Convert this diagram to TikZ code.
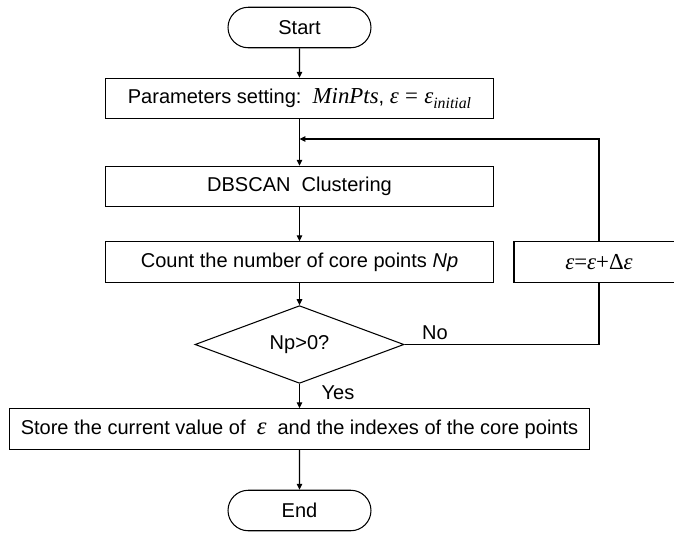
\documentclass[tikz,border=0pt]{standalone}
\usepackage{fontspec}
\setmainfont{Liberation Sans}
\newfontfamily\tms{Liberation Serif}
\usetikzlibrary{shapes.geometric, shapes.misc, arrows.meta, positioning}
\newcommand{\eps}{{\tms\itshape ε}}
\newcommand{\grande}{\fontsize{13}{13}\selectfont}

\begin{document}
\begin{tikzpicture}[x = 0.02cm, y = -0.02cm, font = \fontsize{11.4}{13}\selectfont,
    blocco/.style = {draw, line width = 0.6pt, minimum height = 0.81cm, inner sep = 0pt},
    terminale/.style = {blocco, rounded rectangle, minimum width = 2.86cm},
    rombo/.style = {draw, line width = 0.6pt, diamond, minimum width = 4.18cm, minimum height = 1.14cm, inner sep = 0pt},
    freccia/.style = {line width = 0.6pt, -{Triangle[length = 3.4pt, width = 3.2pt]}},
    linea/.style = {line width = 0.6pt}]
    % Cornice
    \useasboundingbox (0,0) rectangle (674,532);
    % Blocchi
    \node[terminale] (start) at (299.5,27.5) {Start};
    \node[blocco, minimum width = 7.76cm] (param) at (299.5,98.5)
        {Parameters setting:\ \ {\grande\tms\itshape MinPts},\ {\grande\eps\ {\tms =} \eps}\raisebox{-0.45ex}{\fontsize{9}{9}\selectfont\tms\itshape initial}};
    \node[blocco, minimum width = 7.76cm] (dbscan) at (299.5,186.5) {DBSCAN\ \ Clustering};
    \node[blocco, minimum width = 7.76cm] (conta) at (299.5,262) {Count the number of core points \textit{Np}};
    \node[blocco, minimum width = 3.4cm] (incr) at (599,262) {\grande\eps{\tms =}\eps{\tms +Δ}\eps};
    \node[rombo] (test) at (299.5,344.5) {Np>0?};
    \node[blocco, minimum width = 11.62cm] (salva) at (299.5,429)
        {Store the current value of \ {\fontsize{14}{14}\selectfont\eps}\ \ and the indexes of the core points};
    \node[terminale] (fine) at (299.5,510.5) {End};
    % Etichette
    \node (no) at (435,333) {No};
    \node (si) at (338,393) {Yes};
    % Frecce
    \coordinate (giunto) at (299.5,139);
    \draw[freccia] (start) -- (param);
    \draw[freccia] (param) -- (dbscan);
    \draw[freccia] (dbscan) -- (conta);
    \draw[freccia] (conta) -- (test);
    \draw[freccia] (test) -- (salva);
    \draw[freccia] (salva) -- (fine);
    % Ciclo
    \draw[linea] (test.east) -| (incr.south);
    \draw[freccia] (incr.north) |- (giunto);
\end{tikzpicture}
\end{document}
